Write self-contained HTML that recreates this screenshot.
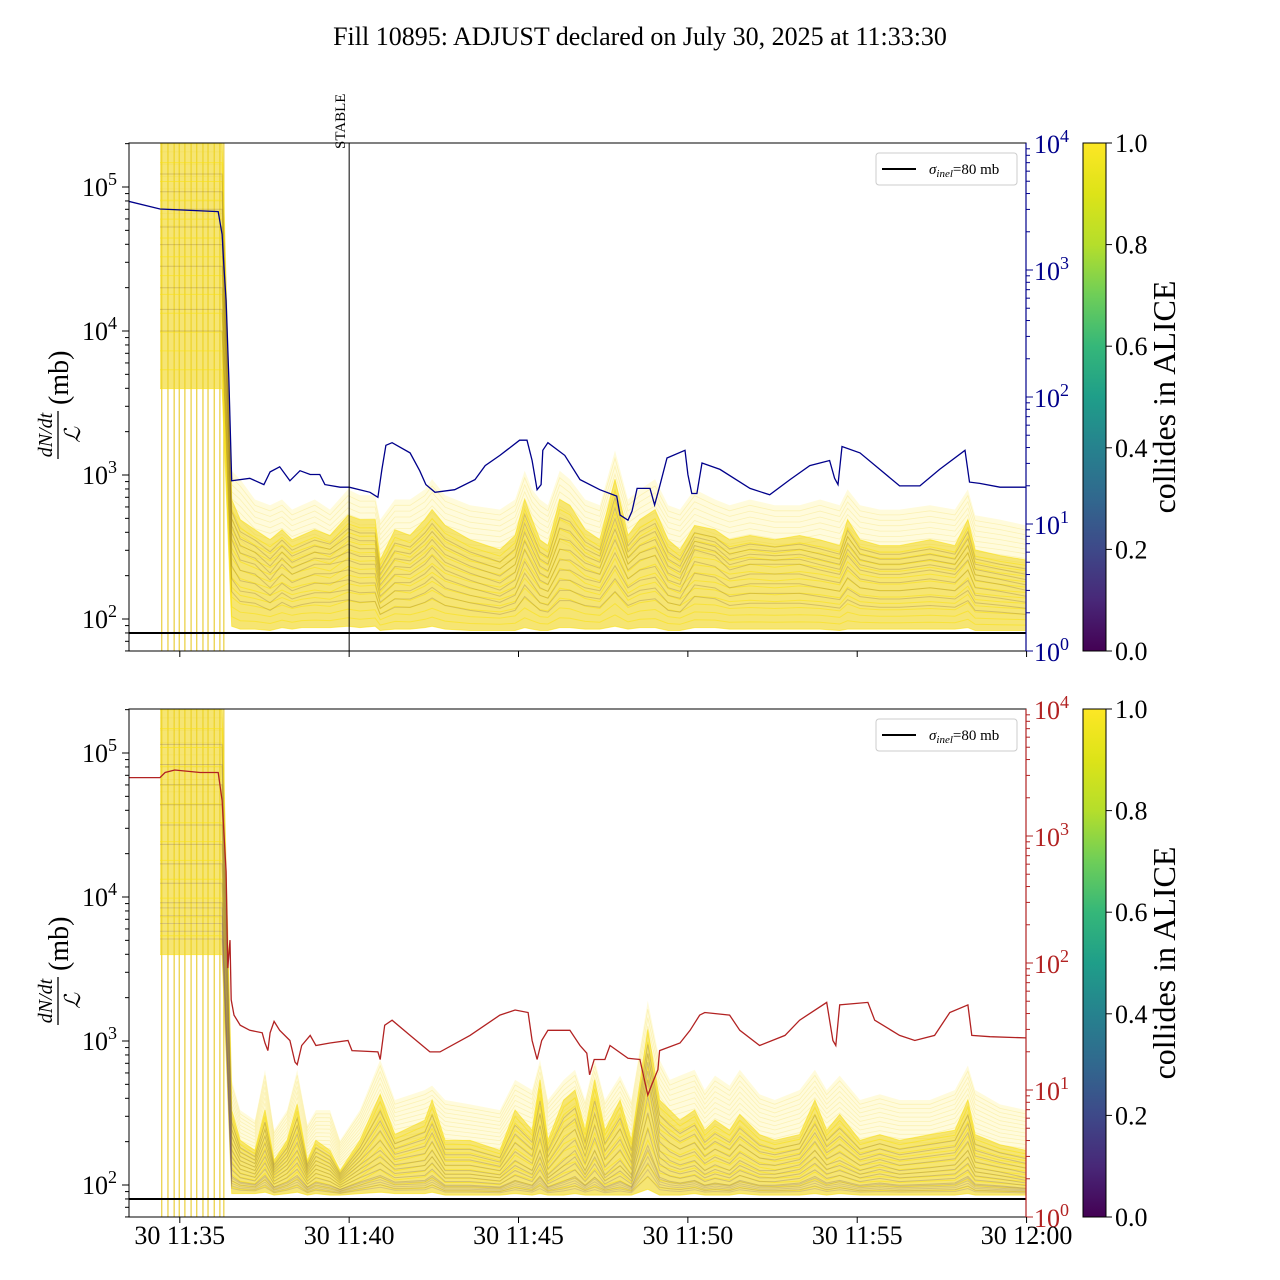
<!DOCTYPE html>
<html><head><meta charset="utf-8"><style>
html,body{margin:0;padding:0;background:#fff;}
svg{display:block;font-family:"Liberation Serif","DejaVu Serif",serif;}
</style></head><body>
<svg id="chart" width="1280" height="1280" viewBox="0 0 1280 1280" xmlns="http://www.w3.org/2000/svg">
<defs>
<linearGradient id="viridis" x1="0" y1="1" x2="0" y2="0">
<stop offset="0" stop-color="#440154"/><stop offset="0.1" stop-color="#482878"/><stop offset="0.2" stop-color="#3e4989"/><stop offset="0.3" stop-color="#31688e"/><stop offset="0.4" stop-color="#26828e"/><stop offset="0.5" stop-color="#1f9e89"/><stop offset="0.6" stop-color="#35b779"/><stop offset="0.7" stop-color="#6ece58"/><stop offset="0.8" stop-color="#b5de2b"/><stop offset="0.9" stop-color="#dde318"/><stop offset="1" stop-color="#fde725"/>
</linearGradient>
<clipPath id="clipTop"><rect x="129" y="143" width="897" height="508"/></clipPath>
<clipPath id="clipBot"><rect x="129" y="709" width="897" height="508"/></clipPath>
</defs>
<text x="640" y="45" font-size="26" text-anchor="middle">Fill 10895: ADJUST declared on July 30, 2025 at 11:33:30</text>
</svg>
<script>
// ---- data (time in seconds since 11:33:30) ----
const xTickTimes = [90, 390, 690, 990, 1290, 1590];
const xTickLabels = ["30 11:35","30 11:40","30 11:45","30 11:50","30 11:55","30 12:00"];
const leftTickLogs = [2, 3, 4, 5];
const rightTickLogs = [0, 1, 2, 3, 4];
const cbTicks = [0.0, 0.2, 0.4, 0.6, 0.8, 1.0];
const sigmaInel = 80;
const stableTime = 390;
const spikeTimes = [58, 69, 80, 89, 99, 110, 120, 131, 140, 151, 161, 168];

const blueT = [0,55,158,165,168,172,177,182,214,239,250,267,285,303,321,338,347,374,390,427,441,448,455,466,498,515,526,542,577,613,631,657,692,705,714,723,730,733,742,772,799,834,864,870,884,891,900,923,931,939,953,985,990,997,1006,1015,1047,1100,1135,1171,1206,1241,1250,1256,1263,1295,1330,1365,1401,1436,1481,1489,1507,1543,1589];
const blueLog = [3.54,3.48,3.46,3.28,3.04,2.76,2.13,1.34,1.36,1.31,1.41,1.45,1.34,1.42,1.39,1.39,1.31,1.29,1.29,1.25,1.21,1.43,1.62,1.64,1.56,1.42,1.31,1.25,1.27,1.35,1.46,1.54,1.66,1.66,1.50,1.27,1.31,1.58,1.64,1.54,1.35,1.27,1.22,1.07,1.03,1.10,1.28,1.28,1.15,1.28,1.52,1.58,1.39,1.24,1.24,1.48,1.43,1.28,1.23,1.35,1.46,1.50,1.36,1.31,1.61,1.56,1.43,1.30,1.30,1.43,1.58,1.33,1.32,1.29,1.29];

const redT = [0,55,64,81,126,158,165,172,175,179,181,186,197,214,236,241,246,250,257,267,285,294,298,306,321,331,356,388,395,441,445,453,466,498,533,551,604,657,684,707,714,723,731,742,781,799,811,816,824,843,852,884,905,919,926,937,940,976,994,1011,1020,1064,1082,1117,1162,1188,1236,1247,1252,1259,1309,1321,1365,1392,1427,1454,1486,1493,1525,1589];
const redLog = [3.46,3.46,3.50,3.52,3.50,3.50,3.28,2.72,1.96,2.18,1.71,1.59,1.51,1.47,1.45,1.37,1.31,1.45,1.54,1.47,1.39,1.22,1.20,1.35,1.43,1.35,1.37,1.39,1.31,1.30,1.24,1.51,1.55,1.43,1.30,1.30,1.43,1.59,1.63,1.61,1.39,1.24,1.39,1.47,1.47,1.35,1.29,1.12,1.24,1.24,1.35,1.25,1.24,0.96,1.04,1.16,1.31,1.37,1.47,1.59,1.61,1.59,1.47,1.35,1.43,1.55,1.69,1.39,1.35,1.67,1.69,1.55,1.43,1.39,1.43,1.61,1.67,1.43,1.42,1.41];

const topT = [55,165,182,197,223,250,271,289,306,329,356,388,409,436,445,471,498,524,537,560,604,657,684,701,714,728,742,763,781,808,834,861,884,905,932,955,976,1002,1038,1064,1100,1144,1188,1224,1259,1273,1295,1330,1365,1419,1463,1486,1499,1543,1589];
const topHi = [5.5,5.5,3.03,2.97,2.83,2.79,2.83,2.76,2.79,2.83,2.76,2.90,2.86,2.86,2.69,2.83,2.83,2.90,2.97,2.86,2.79,2.76,2.83,3.03,2.90,2.83,2.79,3.03,2.97,2.83,2.79,3.17,2.83,2.90,2.97,2.79,2.76,2.90,2.83,2.79,2.83,2.79,2.79,2.83,2.79,2.90,2.79,2.76,2.76,2.79,2.76,2.90,2.72,2.69,2.65];
const topCore = [5.3,5.3,2.83,2.69,2.62,2.55,2.62,2.55,2.58,2.62,2.58,2.72,2.69,2.69,2.41,2.62,2.58,2.69,2.76,2.65,2.55,2.48,2.58,2.83,2.69,2.55,2.51,2.83,2.79,2.62,2.55,2.97,2.58,2.69,2.76,2.55,2.48,2.65,2.62,2.55,2.58,2.55,2.58,2.55,2.51,2.69,2.55,2.51,2.51,2.55,2.51,2.69,2.48,2.44,2.41];
const topMed = [4.6,4.6,2.55,2.41,2.38,2.27,2.38,2.31,2.34,2.38,2.38,2.41,2.38,2.38,2.20,2.31,2.31,2.38,2.44,2.34,2.27,2.20,2.27,2.48,2.38,2.27,2.24,2.41,2.41,2.34,2.31,2.55,2.34,2.41,2.44,2.27,2.24,2.48,2.44,2.34,2.38,2.38,2.38,2.34,2.31,2.44,2.34,2.31,2.31,2.34,2.31,2.41,2.27,2.24,2.20];
const topLo = [3.6,3.6,1.95,1.93,1.93,1.92,1.94,1.93,1.94,1.94,1.94,1.95,1.94,1.95,1.92,1.93,1.93,1.94,1.95,1.93,1.92,1.92,1.92,1.94,1.93,1.92,1.92,1.94,1.94,1.93,1.93,1.95,1.93,1.94,1.94,1.92,1.92,1.94,1.94,1.93,1.93,1.93,1.93,1.93,1.92,1.93,1.93,1.93,1.93,1.93,1.93,1.94,1.92,1.92,1.92];

const botT = [55,165,182,197,223,241,257,280,298,316,331,356,374,409,445,471,524,537,560,604,657,684,714,728,742,770,790,808,825,843,870,890,919,940,958,976,1002,1020,1038,1064,1082,1117,1144,1188,1215,1236,1259,1295,1330,1365,1419,1463,1486,1499,1543,1589];
const botHi = [5.5,5.5,2.73,2.52,2.45,2.80,2.38,2.52,2.80,2.42,2.52,2.52,2.31,2.52,2.87,2.59,2.66,2.69,2.59,2.56,2.52,2.73,2.66,2.87,2.59,2.73,2.80,2.59,2.87,2.59,2.76,2.59,3.28,2.87,2.73,2.76,2.80,2.66,2.76,2.69,2.80,2.63,2.59,2.66,2.80,2.66,2.76,2.59,2.63,2.59,2.59,2.66,2.83,2.66,2.56,2.52];
const botCore = [5.3,5.3,2.52,2.31,2.24,2.52,2.17,2.31,2.56,2.17,2.31,2.24,2.10,2.31,2.63,2.35,2.45,2.59,2.31,2.31,2.24,2.52,2.38,2.73,2.31,2.59,2.66,2.38,2.73,2.38,2.59,2.31,3.08,2.59,2.52,2.45,2.52,2.38,2.45,2.38,2.49,2.35,2.31,2.35,2.59,2.38,2.49,2.31,2.35,2.31,2.35,2.38,2.59,2.35,2.28,2.24];
const botMed = [4.5,4.5,2.24,2.14,2.10,2.24,2.07,2.14,2.24,2.07,2.14,2.10,2.03,2.14,2.24,2.14,2.17,2.24,2.10,2.10,2.07,2.17,2.10,2.24,2.07,2.17,2.24,2.10,2.24,2.07,2.17,2.07,2.73,2.24,2.17,2.14,2.17,2.10,2.14,2.10,2.17,2.10,2.10,2.14,2.24,2.14,2.17,2.10,2.14,2.10,2.12,2.14,2.24,2.12,2.09,2.05];
const botLo = [3.6,3.6,1.94,1.94,1.94,1.95,1.93,1.94,1.95,1.93,1.94,1.93,1.93,1.94,1.95,1.94,1.94,1.95,1.93,1.93,1.93,1.94,1.93,1.94,1.93,1.93,1.94,1.93,1.93,1.93,1.93,1.93,1.97,1.93,1.93,1.93,1.94,1.93,1.93,1.93,1.94,1.93,1.93,1.93,1.94,1.93,1.94,1.93,1.93,1.93,1.93,1.93,1.94,1.93,1.93,1.93];

// ---- scales ----
const svg = document.getElementById('chart');
const NS = 'http://www.w3.org/2000/svg';
const AX_L = 129, AX_R = 1026;
const panels = [
  {top:143, bot:651, leftDec:144, leftRef:187, rightCol:'#00008b', clip:'clipTop', name:'top'},
  {top:709, bot:1217, leftDec:144, leftRef:753, rightCol:'#b22222', clip:'clipBot', name:'bottom'}
];
function X(t){ return AX_L + t*(AX_R-AX_L)/1589; }
function YL(p, lg){ return p.leftRef + (5-lg)*p.leftDec; }
function YR(p, lg){ return p.top + (4-lg)*(p.bot-p.top)/4; }
function el(tag, attrs, parent){
  const e = document.createElementNS(NS, tag);
  for (const k in attrs) e.setAttribute(k, attrs[k]);
  (parent||svg).appendChild(e);
  return e;
}
function pathFrom(ts, vs, yf){
  let d='';
  for (let i=0;i<ts.length;i++){ d += (i?'L':'M') + X(ts[i]).toFixed(1) + ',' + yf(vs[i]).toFixed(1); }
  return d;
}
function bandPath(ts, hi, lo, yf){
  let d='';
  for (let i=0;i<ts.length;i++) d += (i?'L':'M') + X(ts[i]).toFixed(1)+','+yf(hi[i]).toFixed(1);
  for (let i=ts.length-1;i>=0;i--) d += 'L' + X(ts[i]).toFixed(1)+','+yf(lo[i]).toFixed(1);
  return d+'Z';
}

function drawPanel(p, T, HI, CORE, MED, LO, lineT, lineLog, isBottom){
  const g = el('g', {'clip-path':'url(#'+p.clip+')'});
  
  
  const yf = v => YL(p, v);
  spikeTimes.forEach(t => {
    const s = el('line', {x1:X(t), x2:X(t), y1:p.top, y2:p.bot, stroke:'#e6c619', 'stroke-width':1.2, opacity:0.85}, g);
    
    
  });
  const b1 = el('path', {d:bandPath(T, HI, LO, yf), fill:'rgba(253,231,37,0.16)'}, g);
  
  
  for (let k=0;k<10;k++){
    const f = 0.55 + k*0.045;
    const vs = T.map((_,i)=> LO[i] + (HI[i]-LO[i])*f);
    const l = el('path', {d:pathFrom(T, vs, yf), fill:'none', stroke:'rgba(235,210,40,0.22)', 'stroke-width':0.8}, g);
    
    
  }
  const b2 = el('path', {d:bandPath(T, CORE, LO, yf), fill:'rgba(238,212,30,0.55)'}, g);
  
  
  for (let k=0;k<14;k++){
    const f = k/13;
    const vs = T.map((_,i)=> LO[i] + (CORE[i]-LO[i])*f);
    const l = el('path', {d:pathFrom(T, vs, yf), fill:'none', stroke:'rgba(250,225,20,0.6)', 'stroke-width':1}, g);
    
    
  }
  for (let k=0;k<9;k++){
    const f = (k-4)/4;
    const vs = T.map((_,i)=> f<0 ? MED[i] + (MED[i]-LO[i])*f*0.6 : MED[i] + (CORE[i]-MED[i])*f*0.7);
    const col = isBottom ? 'rgba(95,70,110,0.25)' : 'rgba(110,80,50,0.25)';
    const l = el('path', {d:pathFrom(T, vs, yf), fill:'none', stroke:col, 'stroke-width':1}, g);
    
    
  }
  if (isBottom){
    for (let k=0;k<5;k++){
      const f = 0.12 + k*0.06;
      const vs = T.map((_,i)=> LO[i] + (MED[i]-LO[i])*f);
      const l = el('path', {d:pathFrom(T, vs, yf), fill:'none', stroke:'rgba(90,60,150,0.2)', 'stroke-width':1}, g);
      
      
    }
  }
  const sl = el('line', {x1:AX_L, x2:AX_R, y1:yf(Math.log10(sigmaInel)), y2:yf(Math.log10(sigmaInel)), stroke:'#000', 'stroke-width':2}, g);
  
  
  const rl = el('path', {d:pathFrom(lineT, lineLog, v=>YR(p,v)), fill:'none', stroke:p.rightCol, 'stroke-width':1.3}, g);
  
  

  if (!isBottom){
    const st = el('line', {x1:X(stableTime), x2:X(stableTime), y1:p.top, y2:p.bot, stroke:'#000', 'stroke-width':1}, g);
    
    
    const stt = el('text', {x:0, y:0, 'font-size':15, transform:'translate('+(X(stableTime)-4)+','+(p.top+6)+') rotate(-90)'});
    stt.textContent = 'STABLE';
    
    
  }
  const fr = el('rect', {x:AX_L, y:p.top, width:AX_R-AX_L, height:p.bot-p.top, fill:'none', stroke:'#000', 'stroke-width':1});
  
  

  const minLog = 5 - (p.bot - p.leftRef)/p.leftDec, maxLog = 5 + (p.leftRef - p.top)/p.leftDec;
  for (let d=1; d<=5; d++){
    for (let m=1; m<=9; m++){
      const lg = d + Math.log10(m);
      if (lg < minLog || lg > maxLog) continue;
      const y = YL(p, lg);
      const tk = el('line', {x1:AX_L, x2:AX_L-(m===1?7:4), y1:y, y2:y, stroke:'#000', 'stroke-width':1});
      
      
    }
  }
  leftTickLogs.forEach(lg => {
    const y = YL(p, lg);
    const t = el('text', {x:AX_L-12, y:y+9, 'font-size':26, 'text-anchor':'end'});
    t.innerHTML = '10<tspan dy="-11" font-size="18">'+lg+'</tspan>';
    
    
  });
  for (let d=0; d<4; d++){
    for (let m=1; m<=9; m++){
      const lg = d + Math.log10(m);
      const y = YR(p, lg);
      const tk = el('line', {x1:AX_R, x2:AX_R+(m===1?7:4), y1:y, y2:y, stroke:p.rightCol, 'stroke-width':1});
      
      
    }
  }
  const rsp = el('line', {x1:AX_R, x2:AX_R, y1:p.top, y2:p.bot, stroke:p.rightCol, 'stroke-width':1.2});
  
  
  rightTickLogs.forEach(lg => {
    const y = YR(p, lg);
    const t = el('text', {x:AX_R+8, y:y+10, 'font-size':26, fill:p.rightCol});
    t.innerHTML = '10<tspan dy="-11" font-size="18">'+lg+'</tspan>';
    
    
  });
  xTickTimes.forEach((t,i) => {
    const tk = el('line', {x1:X(t), x2:X(t), y1:p.bot, y2:p.bot+6, stroke:'#000', 'stroke-width':1});
    
    
    if (isBottom){
      const tl = el('text', {x:X(t), y:p.bot+27, 'font-size':26, 'text-anchor':'middle'});
      tl.textContent = xTickLabels[i];
      
      
    }
  });
  const cy = (p.top+p.bot)/2;
  const yl = el('g', {transform:'translate(62,'+cy+') rotate(-90)'});
  
  
  el('text', {x:-38, y:-10, 'font-size':20, 'font-style':'italic', 'text-anchor':'middle'}, yl).textContent = 'dN/dt';
  el('line', {x1:-62, x2:-14, y1:-4, y2:-4, stroke:'#000', 'stroke-width':1.3}, yl);
  el('text', {x:-38, y:18, 'font-size':22, 'font-style':'italic', 'text-anchor':'middle'}, yl).textContent = 'ℒ';
  el('text', {x:-8, y:6, 'font-size':28}, yl).textContent = '(mb)';
  const lg = el('g', {});
  
  
  el('rect', {x:876, y:p.top+10, width:141, height:32, rx:3, fill:'#fff', stroke:'#ccc', 'stroke-width':1}, lg);
  el('line', {x1:882, x2:916, y1:p.top+26, y2:p.top+26, stroke:'#000', 'stroke-width':2}, lg);
  const lt = el('text', {x:929, y:p.top+31, 'font-size':15}, lg);
  lt.innerHTML = '<tspan font-style="italic">σ</tspan><tspan font-style="italic" font-size="11" dy="3">inel</tspan><tspan dy="-3">=80 mb</tspan>';
  const cb = el('rect', {x:1083, y:p.top, width:23, height:p.bot-p.top, fill:'url(#viridis)', stroke:'#000', 'stroke-width':1});
  
  
  cbTicks.forEach(v => {
    const y = p.bot - v*(p.bot-p.top);
    el('line', {x1:1106, x2:1112, y1:y, y2:y, stroke:'#000', 'stroke-width':1});
    const t = el('text', {x:1115, y:y+9, 'font-size':26});
    t.textContent = v.toFixed(1);
    
    
  });
  const cbl = el('text', {x:0, y:0, 'font-size':32, 'text-anchor':'middle', transform:'translate(1175,'+cy+') rotate(-90)'});
  cbl.textContent = 'collides in ALICE';
  
  
}
drawPanel(panels[0], topT, topHi, topCore, topMed, topLo, blueT, blueLog, false);
drawPanel(panels[1], botT, botHi, botCore, botMed, botLo, redT, redLog, true);
</script>
</body></html>
